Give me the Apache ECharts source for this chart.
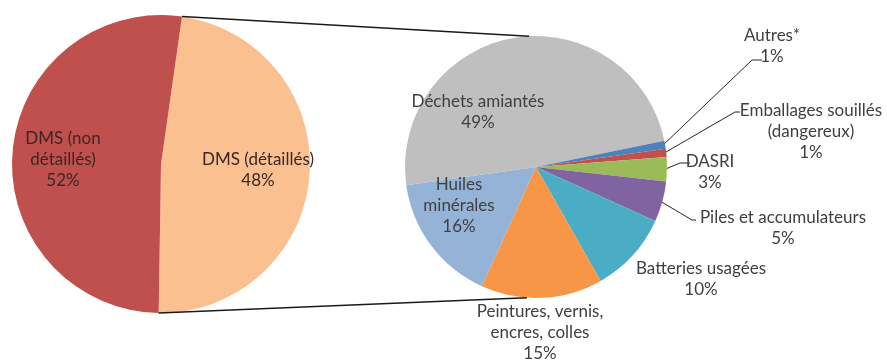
<!DOCTYPE html>
<html><head><meta charset="utf-8">
<script src="https://cdn.jsdelivr.net/npm/echarts@6/dist/echarts.min.js"></script>
<style>html,body{margin:0;padding:0;background:#fff}#c{width:887px;height:364px}</style>
</head><body><div id="c"></div>
<script>
// ---- data ----
const mainCategories = ['DMS (détaillés)', 'DMS (non\ndétaillés)'];
const mainValues = [48, 52];
const detailCategories = ['Déchets amiantés', 'Autres*', 'Emballages souillés\n(dangereux)', 'DASRI',
  'Piles et accumulateurs', 'Batteries usagées', 'Peintures, vernis,\nencres, colles', 'Huiles\nminérales'];
const detailValues = [49, 1, 1, 3, 5, 10, 15, 16];

// ---- style ----
const mainColors = ['#FAC090', '#C0504D'];
const detailColors = ['#BFBFBF', '#4F81BD', '#C0504D', '#9BBB59', '#8064A2', '#4BACC6', '#F79646', '#95B3D7'];
const L = { cx: 161, cy: 164, r: 149, start: 81.9 };
const R = { cx: 536, cy: 167, r: 131, start: 188 };
const FONT = { fontFamily: 'Lato', fontSize: 17, color: '#404040', lineHeight: 21 };

const mainLabelPos = [[258, 170], [63, 160]];
const detailLabelPos = [[478, 112], [772, 46], [811, 132], [710, 172], [783, 228], [701, 279], [540, 333], [459, 206]];
const detailElbows = [null, [[752, 60], [762, 60]], [[735, 112], [740, 112]], [[680, 163], [690, 163]],
  [[692, 220], [696, 220]], null, null, null];

function pt(c, degFromTop, rr) {
  const a = degFromTop * Math.PI / 180;
  return [c.cx + rr * Math.sin(a), c.cy - rr * Math.cos(a)];
}
const detailTotal = detailValues.reduce((a, b) => a + b, 0);
function detailMid(i) {
  let cum = 0;
  for (let k = 0; k < i; k++) cum += detailValues[k];
  return (90 - R.start) + (cum + detailValues[i] / 2) / detailTotal * 360;
}

const mainTotal = mainValues.reduce((a, b) => a + b, 0);
const splitA = 90 - L.start;
const splitB = splitA + mainValues[0] / mainTotal * 360;
const lTop = pt(L, splitA, L.r), lBot = pt(L, splitB, L.r);
const rTop = pt(R, -3, R.r), rBot = pt(R, 184, R.r);

const chart = echarts.init(document.getElementById('c'), null, { renderer: 'canvas' });
chart.setOption({
  animation: false,
  backgroundColor: '#fff',
  graphic: [
    { type: 'line', z: 10, shape: { x1: lTop[0], y1: lTop[1], x2: rTop[0], y2: rTop[1] }, style: { stroke: '#1a1a1a', lineWidth: 1.5 } },
    { type: 'line', z: 10, shape: { x1: lBot[0], y1: lBot[1], x2: rBot[0], y2: rBot[1] }, style: { stroke: '#1a1a1a', lineWidth: 1.5 } }
  ],
  series: [
    {
      type: 'pie', center: [L.cx, L.cy], radius: L.r, startAngle: L.start, clockwise: true,
      percentPrecision: 0, avoidLabelOverlap: false, silent: true,
      itemStyle: { borderWidth: 0 },
      label: Object.assign({ show: true, position: 'inside', formatter: '{b}\n{d}%', align: 'center' }, FONT, { color: '#3a2626' }),
      labelLine: { show: false },
      labelLayout: p => ({ x: mainLabelPos[p.dataIndex][0], y: mainLabelPos[p.dataIndex][1], align: 'center', verticalAlign: 'middle' }),
      data: mainCategories.map((n, i) => ({ name: n, value: mainValues[i], itemStyle: { color: mainColors[i] } }))
    },
    {
      type: 'pie', center: [R.cx, R.cy], radius: R.r, startAngle: R.start, clockwise: true,
      percentPrecision: 0, avoidLabelOverlap: false, silent: true,
      itemStyle: { borderWidth: 0 },
      label: Object.assign({ show: true, position: 'outside', formatter: '{b}\n{d}%', align: 'center' }, FONT),
      labelLine: { show: true, length: 10, length2: 10, lineStyle: { color: '#262626', width: 1 } },
      labelLayout: p => {
        const i = p.dataIndex;
        const o = { x: detailLabelPos[i][0], y: detailLabelPos[i][1], align: 'center', verticalAlign: 'middle' };
        if (detailElbows[i]) {
          o.labelLinePoints = [pt(R, detailMid(i), R.r - 2), detailElbows[i][0], detailElbows[i][1]];
        }
        return o;
      },
      data: detailCategories.map((n, i) => ({
        name: n, value: detailValues[i], itemStyle: { color: detailColors[i] },
        labelLine: { show: !!detailElbows[i] }
      }))
    }
  ]
});
</script>
</body></html>
